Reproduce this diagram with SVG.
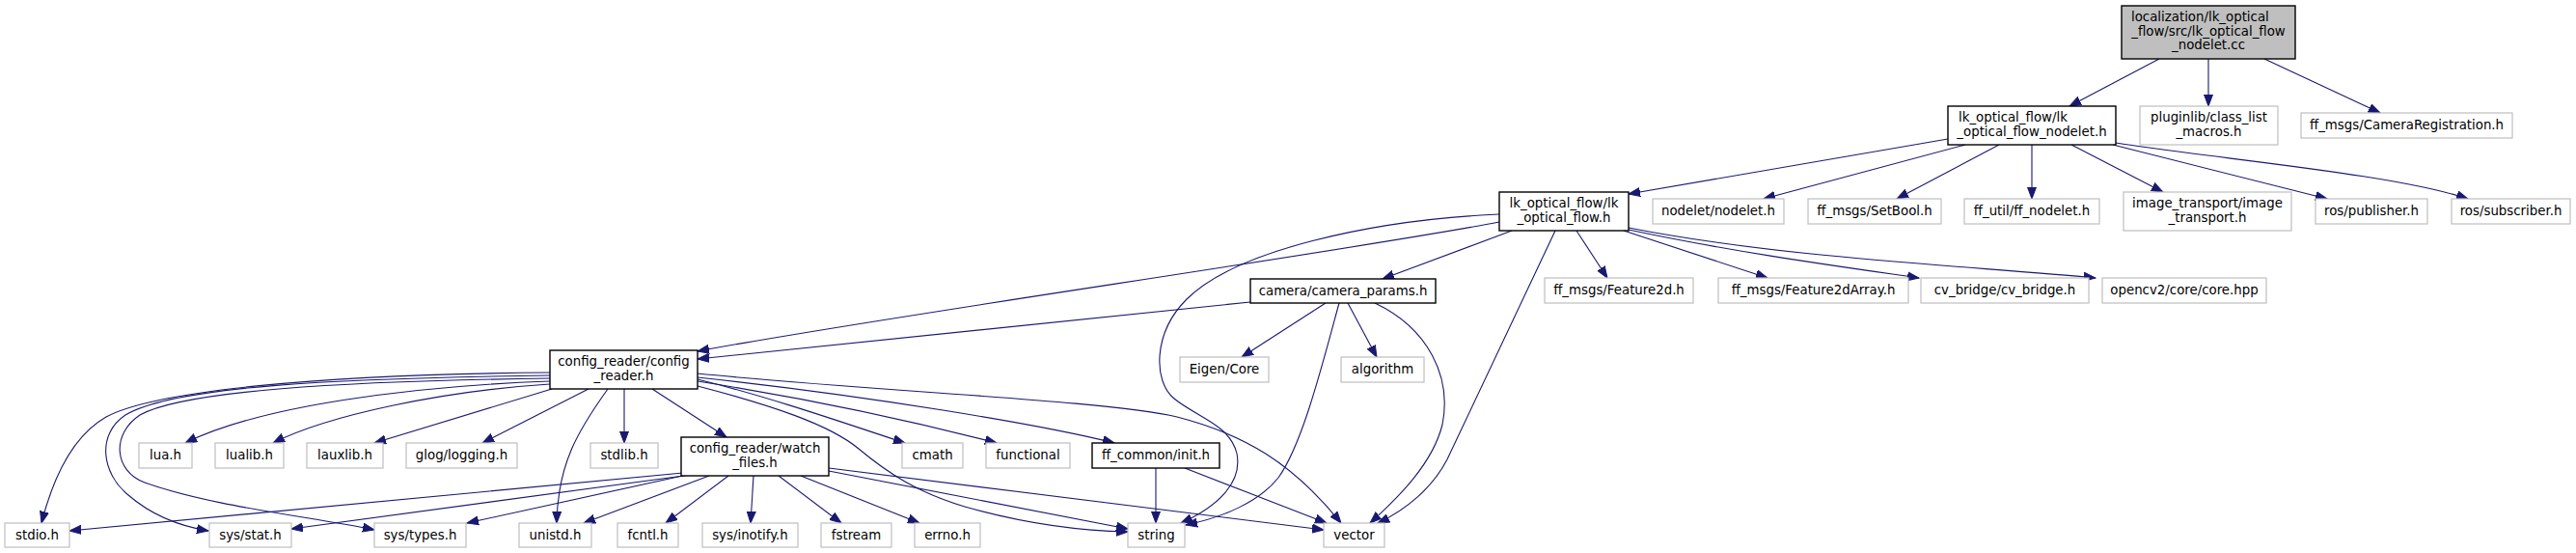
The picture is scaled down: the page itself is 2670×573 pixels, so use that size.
<svg xmlns="http://www.w3.org/2000/svg" width="2670" height="573" viewBox="0 0 2670 573">
<defs>
<marker id="a" markerWidth="13" markerHeight="10" refX="12" refY="5" orient="auto" markerUnits="userSpaceOnUse">
<path d="M0,0.5 L12,5 L0,9.5 z" fill="#191970" stroke="#191970" stroke-width="1"/>
</marker>
</defs>
<style>
.n rect{fill:#fff;stroke:#bfbfbf;stroke-width:1.2}
.d rect{stroke:#000;stroke-width:1.4}
.r rect{fill:#bfbfbf;stroke:#000;stroke-width:1.4}
text{font-family:"DejaVu Sans",sans-serif;font-size:13.33px;fill:#000;text-anchor:middle}
.l{text-anchor:start}
#edges path{fill:none;stroke:#191970;stroke-width:1.1;marker-end:url(#a)}
</style>
<rect width="2670" height="573" fill="#fff"/>
<g id="edges">
<path d="M2238,61 L2145,110"/>
<path d="M2289,61 L2289,110"/>
<path d="M2347,61 L2467,117"/>
<path d="M2019,144 L1688,201"/>
<path d="M2037,150 L1828,206"/>
<path d="M2072,150 L1966,206"/>
<path d="M2106,150 L2106,206"/>
<path d="M2147,150 L2242,199"/>
<path d="M2190,150 L2412,206"/>
<path d="M2193,148 C2300,165 2480,180 2558,206"/>
<path d="M1554,230 C1400,260 900,330 723,364"/>
<path d="M1567,239 L1433,289"/>
<path d="M1554,222 C1420,228 1280,260 1230,310 C1195,345 1195,395 1217,413 C1240,432 1275,440 1282,470 C1288,500 1262,525 1224,542"/>
<path d="M1612,239 L1500,476 C1485,505 1458,528 1428,542"/>
<path d="M1634,239 L1666,288"/>
<path d="M1683,239 L1832,288"/>
<path d="M1688,238 C1800,262 1920,278 1989,288"/>
<path d="M1688,236 C1850,268 2050,276 2172,288"/>
<path d="M1296,313 L723,372"/>
<path d="M1374,314 L1287,370"/>
<path d="M1397,314 L1427,370"/>
<path d="M1388,314 C1370,380 1350,460 1325,495 C1305,520 1268,536 1229,544"/>
<path d="M1425,314 C1480,340 1505,390 1495,440 C1485,480 1450,515 1420,542"/>
<path d="M570,386 C330,388 160,405 110,432 C75,452 55,495 43,542"/>
<path d="M570,389 C350,392 180,400 130,430 C100,450 105,490 133,513 C155,532 185,545 216,550"/>
<path d="M570,392 C350,395 190,405 145,430 C115,450 118,488 150,500 C220,525 320,535 388,549"/>
<path d="M570,395 C430,400 270,420 192,459"/>
<path d="M570,398 C460,405 340,430 283,459"/>
<path d="M572,403 L388,459"/>
<path d="M610,403 L500,459"/>
<path d="M630,403 C600,445 578,480 577,542"/>
<path d="M647,403 L647,459"/>
<path d="M676,403 L753,453"/>
<path d="M723,393 C800,412 880,440 938,459"/>
<path d="M723,395 C850,415 960,440 1033,459"/>
<path d="M723,391 C900,410 1080,440 1155,459"/>
<path d="M723,400 C800,420 860,440 890,465 C920,490 950,510 1000,525 C1060,542 1120,550 1169,551"/>
<path d="M723,387 C900,405 1150,415 1220,432 C1290,450 1340,480 1390,542"/>
<path d="M708,490 L72,550"/>
<path d="M716,492 L302,548"/>
<path d="M712,492 L484,542"/>
<path d="M735,493 L605,542"/>
<path d="M755,493 L690,542"/>
<path d="M781,493 L778,542"/>
<path d="M807,493 L872,542"/>
<path d="M830,493 L953,542"/>
<path d="M859,488 L1169,548"/>
<path d="M859,485 L1372,549"/>
<path d="M1198,485 L1198,542"/>
<path d="M1228,485 L1375,542"/>
</g>
<g id="root" class="r"><rect x="2199" y="6" width="180" height="55"/><text class="l" x="2209" y="22">localization/lk_optical</text><text x="2289" y="36.5">_flow/src/lk_optical_flow</text><text x="2289" y="51">_nodelet.cc</text></g>
<g id="lk_nodelet_h" class="n d"><rect x="2019" y="110" width="174" height="40"/><text class="l" x="2030" y="126">lk_optical_flow/lk</text><text x="2106" y="140.5">_optical_flow_nodelet.h</text></g>
<g id="pluginlib" class="n"><rect x="2218" y="110" width="143" height="40"/><text x="2289.5" y="126">pluginlib/class_list</text><text x="2289.5" y="140.5">_macros.h</text></g>
<g id="camera_registration" class="n"><rect x="2385" y="117" width="219" height="26"/><text x="2494.5" y="134">ff_msgs/CameraRegistration.h</text></g>
<g id="lk_optical_flow_h" class="n d"><rect x="1554" y="199" width="134" height="40"/><text x="1621" y="215">lk_optical_flow/lk</text><text x="1621" y="229.5">_optical_flow.h</text></g>
<g id="nodelet_h" class="n"><rect x="1713" y="206" width="136" height="26"/><text x="1781" y="223">nodelet/nodelet.h</text></g>
<g id="setbool_h" class="n"><rect x="1874" y="206" width="138" height="26"/><text x="1943" y="223">ff_msgs/SetBool.h</text></g>
<g id="ff_nodelet_h" class="n"><rect x="2036" y="206" width="140" height="26"/><text x="2106" y="223">ff_util/ff_nodelet.h</text></g>
<g id="image_transport_h" class="n"><rect x="2201" y="199" width="174" height="40"/><text x="2288" y="215">image_transport/image</text><text x="2288" y="229.5">_transport.h</text></g>
<g id="publisher_h" class="n"><rect x="2400" y="206" width="116" height="26"/><text x="2458" y="223">ros/publisher.h</text></g>
<g id="subscriber_h" class="n"><rect x="2541" y="206" width="123" height="26"/><text x="2602.5" y="223">ros/subscriber.h</text></g>
<g id="camera_params_h" class="n d"><rect x="1296" y="289" width="192" height="25"/><text x="1392" y="305.5">camera/camera_params.h</text></g>
<g id="feature2d_h" class="n"><rect x="1601" y="288" width="154" height="26"/><text x="1678" y="305">ff_msgs/Feature2d.h</text></g>
<g id="feature2darray_h" class="n"><rect x="1781" y="288" width="197" height="26"/><text x="1879.5" y="305">ff_msgs/Feature2dArray.h</text></g>
<g id="cv_bridge_h" class="n"><rect x="1991" y="288" width="174" height="26"/><text x="2078" y="305">cv_bridge/cv_bridge.h</text></g>
<g id="core_hpp" class="n"><rect x="2179" y="288" width="170" height="26"/><text x="2264" y="305">opencv2/core/core.hpp</text></g>
<g id="config_reader_h" class="n d"><rect x="570" y="363" width="153" height="40"/><text x="646.5" y="379">config_reader/config</text><text x="646.5" y="393.5">_reader.h</text></g>
<g id="eigen_core" class="n"><rect x="1223" y="370" width="92" height="26"/><text x="1269" y="387">Eigen/Core</text></g>
<g id="algorithm" class="n"><rect x="1390" y="370" width="86" height="26"/><text x="1433" y="387">algorithm</text></g>
<g id="lua_h" class="n"><rect x="144" y="459" width="55" height="26"/><text x="171.5" y="476">lua.h</text></g>
<g id="lualib_h" class="n"><rect x="223" y="459" width="71" height="26"/><text x="258.5" y="476">lualib.h</text></g>
<g id="lauxlib_h" class="n"><rect x="318" y="459" width="79" height="26"/><text x="357.5" y="476">lauxlib.h</text></g>
<g id="logging_h" class="n"><rect x="421" y="459" width="115" height="26"/><text x="478.5" y="476">glog/logging.h</text></g>
<g id="stdlib_h" class="n"><rect x="612" y="459" width="70" height="26"/><text x="647" y="476">stdlib.h</text></g>
<g id="watch_files_h" class="n d"><rect x="706" y="453" width="153" height="40"/><text x="782.5" y="469">config_reader/watch</text><text x="782.5" y="483.5">_files.h</text></g>
<g id="cmath" class="n"><rect x="935" y="459" width="63" height="26"/><text x="966.5" y="476">cmath</text></g>
<g id="functional" class="n"><rect x="1022" y="459" width="87" height="26"/><text x="1065.5" y="476">functional</text></g>
<g id="init_h" class="n d"><rect x="1132" y="459" width="132" height="26"/><text x="1198" y="476">ff_common/init.h</text></g>
<g id="stdio_h" class="n"><rect x="5" y="542" width="67" height="25"/><text x="38.5" y="558.5">stdio.h</text></g>
<g id="stat_h" class="n"><rect x="217" y="542" width="85" height="25"/><text x="259.5" y="558.5">sys/stat.h</text></g>
<g id="types_h" class="n"><rect x="388" y="542" width="95" height="25"/><text x="435.5" y="558.5">sys/types.h</text></g>
<g id="unistd_h" class="n"><rect x="538" y="542" width="75" height="25"/><text x="575.5" y="558.5">unistd.h</text></g>
<g id="fcntl_h" class="n"><rect x="640" y="542" width="63" height="25"/><text x="671.5" y="558.5">fcntl.h</text></g>
<g id="inotify_h" class="n"><rect x="728" y="542" width="99" height="25"/><text x="777.5" y="558.5">sys/inotify.h</text></g>
<g id="fstream" class="n"><rect x="851" y="542" width="73" height="25"/><text x="887.5" y="558.5">fstream</text></g>
<g id="errno_h" class="n"><rect x="948" y="542" width="68" height="25"/><text x="982" y="558.5">errno.h</text></g>
<g id="string" class="n"><rect x="1169" y="542" width="59" height="25"/><text x="1198.5" y="558.5">string</text></g>
<g id="vector" class="n"><rect x="1372" y="542" width="63" height="25"/><text x="1403.5" y="558.5">vector</text></g>
</svg>
